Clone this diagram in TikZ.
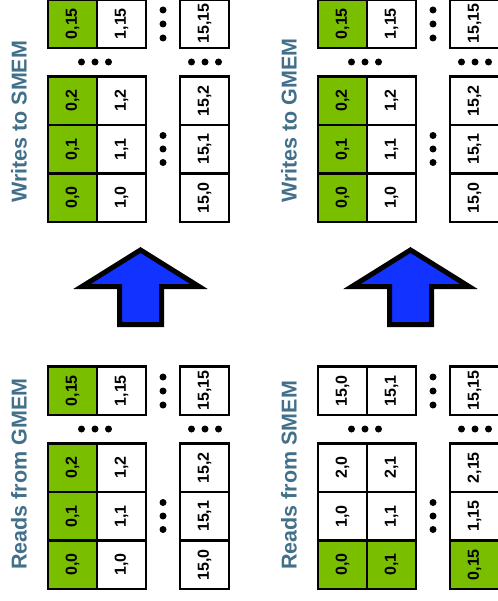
\documentclass[tikz,border=0pt]{standalone}
\usepackage{fontspec}
\setmainfont{Liberation Sans}
\definecolor{gpugreen}{RGB}{122,190,0}
\definecolor{titleblue}{RGB}{66,112,138}
\definecolor{arrowblue}{RGB}{18,50,255}
\begin{document}
\begin{tikzpicture}[x=1pt,y=-1pt,
  cell/.style={draw=black, line width=2.6pt, minimum width=48.5pt, minimum height=49pt,
    inner sep=0pt, rotate=90, font=\fontsize{16}{16}\selectfont\bfseries},
  paneltitle/.style={rotate=90, anchor=west, text=titleblue, inner sep=0pt,
    font=\fontsize{21.5}{22}\selectfont\bfseries},
  dotmark/.style={circle, fill=black, inner sep=0pt, minimum size=7pt},
  bigarrow/.style={draw=black, fill=arrowblue, line width=5pt, line join=miter}]
\useasboundingbox (0,0) rectangle (497,601);

% four tile panels: x offset / y offset / name / transposed?
\foreach \ox/\oy/\pn/\tr in {0/0/ws/0, 270/0/wg/0, 0/367/rg/0, 270/367/rs/1} {
  \foreach \a/\cx in {0/72.5, 1/121.5, 15/204.5} {
    \foreach \b/\cy in {0/197.75, 1/149.25, 2/100.75, 15/23.75} {
      \ifnum\tr=0
        \def\lab{\a,\b}%
        \ifnum\a=0 \def\fc{gpugreen}\else\def\fc{white}\fi
      \else
        \def\lab{\b,\a}%
        \ifnum\b=0 \def\fc{gpugreen}\else\def\fc{white}\fi
      \fi
      \node[cell, fill=\fc] (\pn-\a-\b) at (\ox+\cx, \oy+\cy) {\lab};
    }
  }
  % ellipsis dots between columns
  \foreach \k/\dy in {1/135.5, 2/149, 3/162.5}
    \node[dotmark] (\pn-vd-\k) at (\ox+163, \oy+\dy) {};
  \foreach \k/\dy in {1/10, 2/24, 3/38}
    \node[dotmark] (\pn-vt-\k) at (\ox+163, \oy+\dy) {};
  % ellipsis dots between rows
  \foreach \k/\dx in {1/81.5, 2/95, 3/108.5}
    \node[dotmark] (\pn-hl-\k) at (\ox+\dx, \oy+62) {};
  \foreach \k/\dx in {1/191.5, 2/205, 3/218.5}
    \node[dotmark] (\pn-hr-\k) at (\ox+\dx, \oy+62) {};
}

% panel titles
\node[paneltitle] (t-ws) at (19,203) {Writes to SMEM};
\node[paneltitle] (t-wg) at (289,203) {Writes to GMEM};
\node[paneltitle] (t-rg) at (19,570) {Reads from GMEM};
\node[paneltitle] (t-rs) at (289,570) {Reads from SMEM};

% block arrows
\foreach \ox in {0,270}
  \draw[bigarrow] (\ox+140.5,250) -- (\ox+199,286.5) -- (\ox+161.5,286.5)
    -- (\ox+161.5,324.5) -- (\ox+119.5,324.5) -- (\ox+119.5,286.5)
    -- (\ox+82,286.5) -- cycle;
\end{tikzpicture}
\end{document}
